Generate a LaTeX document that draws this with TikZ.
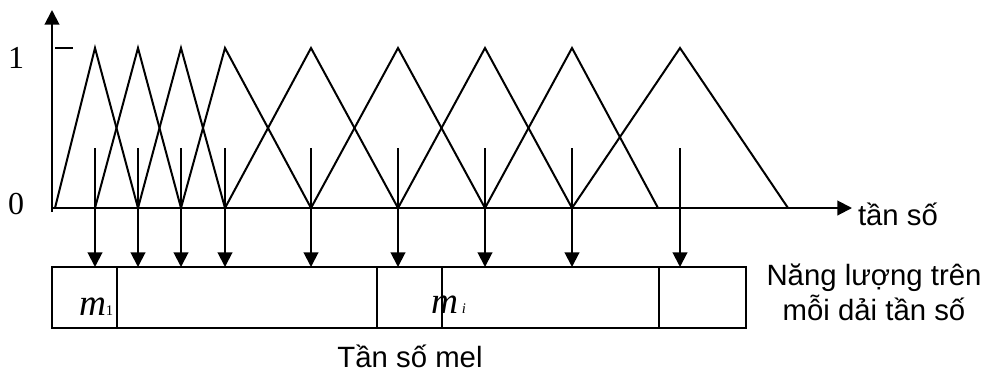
\documentclass[tikz,border=0pt]{standalone}
\usepackage{fontspec}
\setmainfont{Liberation Serif}
\setsansfont{Liberation Sans}
\usetikzlibrary{positioning, arrows.meta}

\begin{document}
\begin{tikzpicture}[x=0.75pt, y=-0.75pt, line width=1.5pt,
        tip/.style={-{Triangle[length=11pt,width=11pt]}},
        vnlabel/.style={font=\sffamily\fontsize{22}{26}\selectfont, inner sep=0pt},
        numlabel/.style={font=\rmfamily\fontsize{24}{28}\selectfont, inner sep=0pt}]

        \useasboundingbox (0,0) rectangle (984,372);

        % Axes (drawn first so the filters sit on top)
        \coordinate (origin) at (52,208);
        \coordinate (ybot) at (52,212);
        \coordinate (ytop) at (52,10);
        \coordinate (xend) at (852,208);
        \draw[tip] (ybot) -- (ytop);
        \draw[tip] (origin) -- (xend);

        % Mark for the value 1
        \coordinate (tickA) at (55,48);
        \coordinate (tickB) at (73,48);
        \draw (tickA) -- (tickB);
        \node (one) [numlabel] at (16,58) {1};
        \node (zero) [numlabel] at (16,204) {0};

        % Triangular filters: left foot / peak / right foot
        \foreach \l/\p/\r in {55/95/138, 95/138/181, 138/181/225, 181/225/311,
                              225/311/398, 311/398/485, 398/485/572,
                              485/572/658, 572/680/788}
            \draw[line join=miter] (\l,208) -- (\p,48) -- (\r,208);

        % Arrows from each filter down to the energy box
        \foreach \x [count=\i] in {95,138,181,225,311,398,485,572,680} {
            \coordinate (s\i) at (\x,148);
            \coordinate (e\i) at (\x,267);
            \draw[tip] (s\i) -- (e\i);
        }

        % Energy box and its cells
        \draw (52,267) rectangle (746,328);
        \foreach \x in {117,377,442,659}
            \draw (\x,267) -- (\x,328);

        \node (m1) [anchor=base west, inner sep=0pt] at (78,315)
            {\fontsize{28}{30}\selectfont\textit{m}\fontsize{11}{12}\selectfont 1};
        \node (mi) [anchor=base west, inner sep=0pt] at (430,313)
            {\fontsize{28}{30}\selectfont\textit{m}\hspace{3pt}\fontsize{11}{12}\selectfont\textit{i}};

        % Text labels
        \node (freq) [vnlabel, anchor=base west] at (857,225) {tần số};
        \node (energyA) [vnlabel, anchor=base] at (874,285) {Năng lượng trên};
        \node (energyB) [vnlabel, anchor=base] at (874,320) {mỗi dải tần số};
        \node (mel) [vnlabel, anchor=base] at (410,367) {Tần số mel};
\end{tikzpicture}
\end{document}
